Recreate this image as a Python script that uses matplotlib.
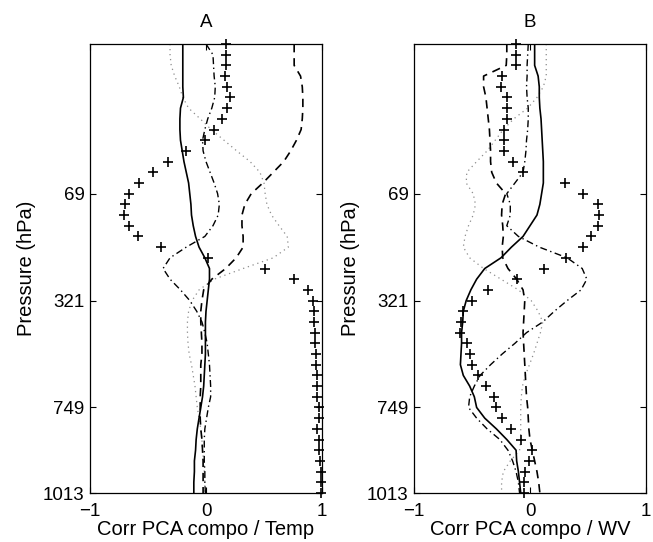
import numpy as np
import matplotlib
matplotlib.use('Agg')
import matplotlib.pyplot as plt

plt.rcParams['font.family'] = ['Liberation Sans', 'DejaVu Sans']
plt.rcParams['font.size'] = 13.5

# model levels (1 = top), labelled with pressure in hPa
levels = np.arange(1, 44)
tick_levels = [15, 25, 35, 43]
tick_labels = ['69', '321', '749', '1013']

# panel A : correlation with temperature
solid_A = [-0.20, -0.20, -0.20, -0.20, -0.20, -0.195, -0.22, -0.225, -0.225, -0.22,
           -0.205, -0.19, -0.17, -0.15, -0.14, -0.13, -0.125, -0.11, -0.09, -0.06,
           -0.01, 0.03, 0.03, 0.02, 0.01, 0.0, -0.005, -0.005, -0.005, -0.005,
           -0.01, -0.015, -0.02, -0.03, -0.045, -0.06, -0.075, -0.085, -0.09, -0.10,
           -0.10, -0.105, -0.105]
dashed_A = [0.76, 0.76, 0.76, 0.815, 0.83, 0.835, 0.835, 0.83, 0.82, 0.78,
            0.73, 0.67, 0.58, 0.49, 0.39, 0.335, 0.31, 0.31, 0.32, 0.32,
            0.26, 0.17, 0.05, -0.02, -0.035, -0.045, -0.045, -0.04, -0.035, -0.035,
            -0.045, -0.045, -0.045, -0.05, -0.05, -0.05, -0.045, -0.035, -0.03, -0.025,
            -0.025, -0.025, -0.025]
dashdot_A = [0.0, 0.06, 0.065, 0.07, 0.08, 0.075, 0.05, 0.015, -0.01, -0.03,
             -0.025, 0.0, 0.035, 0.07, 0.10, 0.115, 0.105, 0.06, -0.01, -0.17,
             -0.31, -0.37, -0.31, -0.22, -0.14, -0.08, -0.035, -0.01, 0.01, 0.02,
             0.03, 0.035, 0.04, 0.04, 0.02, 0.005, -0.01, -0.015, -0.015, -0.015,
             -0.01, -0.01, -0.005]
dotted_A = [-0.31, -0.31, -0.30, -0.27, -0.23, -0.20, -0.15, -0.05, 0.045, 0.155,
            0.265, 0.38, 0.465, 0.50, 0.51, 0.525, 0.565, 0.63, 0.70, 0.71,
            0.58, 0.32, 0.07, -0.06, -0.12, -0.15, -0.16, -0.16, -0.155, -0.145,
            -0.125, -0.11, -0.095, -0.085, -0.075, -0.06, -0.045, -0.035, -0.03, -0.02,
            -0.015, -0.01, -0.01]
plus_A = [0.17, 0.17, 0.17, 0.16, 0.18, 0.21, 0.18, 0.14, 0.07, -0.01,
          -0.17, -0.33, -0.46, -0.58, -0.66, -0.70, -0.71, -0.66, -0.59, -0.39,
          0.02, 0.51, 0.76, 0.88, 0.92, 0.93, 0.93, 0.94, 0.94, 0.95,
          0.95, 0.96, 0.96, 0.96, 0.97, 0.97, 0.96, 0.97, 0.97, 0.98,
          0.99, 0.99, 0.99]

# panel B : correlation with water vapour
solid_B = [0.04, 0.04, 0.04, 0.07, 0.08, 0.08, 0.085, 0.095, 0.10, 0.105,
           0.11, 0.115, 0.115, 0.115, 0.10, 0.085, 0.06, 0.0, -0.06, -0.16,
           -0.25, -0.39, -0.46, -0.51, -0.55, -0.575, -0.58, -0.59, -0.59, -0.595,
           -0.60, -0.575, -0.52, -0.48, -0.46, -0.39, -0.29, -0.20, -0.12, -0.115,
           -0.10, -0.09, -0.08]
dashed_B = [-0.20, -0.20, -0.205, -0.40, -0.40, -0.38, -0.37, -0.36, -0.35, -0.345,
            -0.34, -0.34, -0.33, -0.29, -0.21, -0.24, -0.245, -0.235, -0.23, -0.24,
            -0.235, -0.19, -0.115, -0.06, -0.045, -0.05, -0.055, -0.06, -0.055, -0.05,
            -0.045, -0.04, -0.035, -0.03, -0.02, -0.015, -0.01, 0.0, 0.02, 0.04,
            0.06, 0.075, 0.085]
dashdot_B = [-0.015, -0.02, -0.025, -0.025, -0.03, -0.025, -0.015, -0.015, -0.02, -0.03,
             -0.035, -0.045, -0.06, -0.13, -0.20, -0.17, -0.17, -0.20, -0.10, 0.08,
             0.32, 0.45, 0.49, 0.44, 0.32, 0.21, 0.11, -0.03, -0.13, -0.24,
             -0.34, -0.43, -0.48, -0.52, -0.53, -0.46, -0.37, -0.26, -0.19, -0.15,
             -0.12, -0.10, -0.09]
dotted_B = [0.14, 0.14, 0.14, 0.14, 0.115, 0.06, -0.02, -0.14, -0.23, -0.30,
            -0.37, -0.46, -0.545, -0.55, -0.49, -0.47, -0.49, -0.53, -0.56, -0.575,
            -0.52, -0.40, -0.25, -0.10, 0.01, 0.07, 0.11, 0.09, 0.06, 0.03,
            -0.005, -0.04, -0.065, -0.075, -0.08, -0.08, -0.08, -0.08, -0.09, -0.17,
            -0.23, -0.245, -0.245]
plus_B = [-0.12, -0.12, -0.12, -0.245, -0.25, -0.195, -0.195, -0.20, -0.225, -0.225,
          -0.22, -0.15, -0.06, 0.30, 0.455, 0.59, 0.595, 0.59, 0.525, 0.46,
          0.31, 0.12, -0.11, -0.365, -0.50, -0.58, -0.595, -0.60, -0.545, -0.515,
          -0.50, -0.445, -0.38, -0.31, -0.29, -0.24, -0.16, -0.08, 0.02, -0.01,
          -0.045, -0.055, -0.055]

fig = plt.figure(figsize=(6.53, 5.42), dpi=100)
axA = fig.add_axes([90/653, 49/542, 232/653, 449/542])
axB = fig.add_axes([414/653, 49/542, 232/653, 449/542])

panels = [(axA, 'A', 'Corr PCA compo / Temp', solid_A, dashed_A, dashdot_A, dotted_A, plus_A),
          (axB, 'B', 'Corr PCA compo / WV', solid_B, dashed_B, dashdot_B, dotted_B, plus_B)]

for ax, title, xlab, s, d, dd, dt, p in panels:
    ax.plot(dt, levels, color='0.55', ls=(0, (1, 3)), lw=0.9)
    ax.plot(s, levels, color='k', ls='-', lw=1.2)
    ax.plot(d, levels, color='k', ls=(0, (5, 3.5)), lw=1.2)
    ax.plot(dd, levels, color='k', ls=(0, (5, 2.5, 1, 2.5)), lw=1.0)
    ax.plot(p, levels, ls='none', marker='+', color='k', ms=7.5, mew=1.2, clip_on=False)
    ax.set_xlim(-1, 1)
    ax.set_ylim(43, 1)
    ax.set_xticks([-1, 0, 1])
    ax.set_yticks(tick_levels)
    ax.set_yticklabels(tick_labels)
    ax.tick_params(direction='in', length=4, width=0.8, top=True, right=True, pad=4)
    ax.tick_params(axis='x', pad=7)
    for sp in ax.spines.values():
        sp.set_linewidth(0.9)
    ax.set_title(title, fontsize=13.5, pad=12)
    ax.set_xlabel(xlab, fontsize=14.5, labelpad=0)
    ax.set_ylabel('Pressure (hPa)', fontsize=14.5, labelpad=5)

fig.savefig('out.png', dpi=100)
